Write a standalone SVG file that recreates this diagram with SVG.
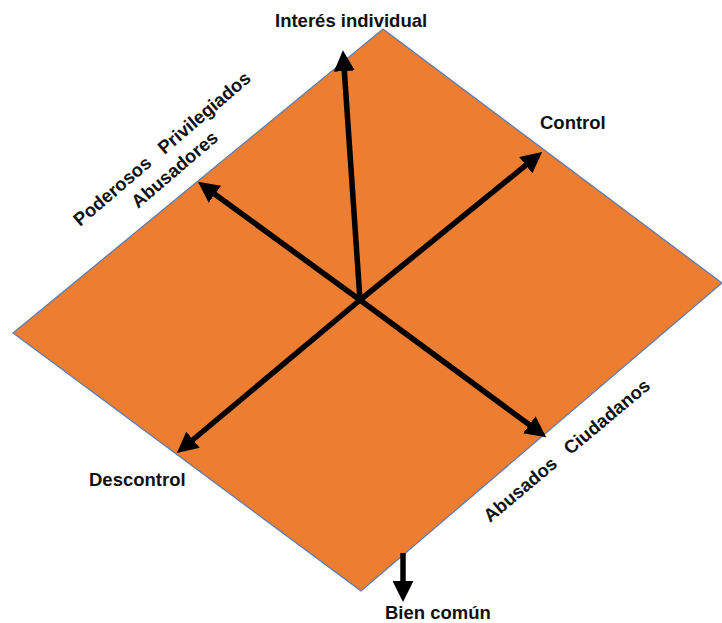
<svg xmlns="http://www.w3.org/2000/svg" width="722" height="623" viewBox="0 0 722 623">
<style>
.lbl{font-family:"Liberation Sans",Arial,sans-serif;font-weight:bold;font-size:18.5px;fill:#111}
.arr{stroke:#000;stroke-width:5.5;fill:none;marker-end:url(#head)}
</style>
<defs>
<marker id="head" viewBox="0 0 20 20" refX="2" refY="10" markerWidth="21" markerHeight="21" markerUnits="userSpaceOnUse" orient="auto">
<path d="M0,0 L20,10 L0,20 Z" fill="#000"/>
</marker>
</defs>
<rect width="722" height="623" fill="#fff"/>
<g id="plane">
<polygon points="383,29 722,283 361,591 13,333" fill="#ED7D31" stroke="#5A7BB5" stroke-width="1.2"/>
</g>
<g id="connectors">
<line class="arr" x1="360" y1="300" x2="344.2" y2="69"/>
<line class="arr" x1="360" y1="300" x2="527.4" y2="163.9"/>
<line class="arr" x1="360" y1="300" x2="213.2" y2="193"/>
<line class="arr" x1="360" y1="300" x2="191.4" y2="441"/>
<line class="arr" x1="360" y1="300" x2="531" y2="426"/>
<line class="arr" x1="403" y1="553" x2="403" y2="583"/>
</g>
<g id="label-interes"><text class="lbl" x="275" y="27">Interés individual</text></g>
<g id="label-control"><text class="lbl" x="540" y="129">Control</text></g>
<g id="label-descontrol"><text class="lbl" x="89" y="486">Descontrol</text></g>
<g id="label-bien"><text class="lbl" x="385" y="619">Bien común</text></g>
<g id="label-poderosos"><text class="lbl" xml:space="preserve" transform="translate(80,227) rotate(-40.5)">Poderosos   Privilegiados</text></g>
<g id="label-abusadores"><text class="lbl" transform="translate(138,209) rotate(-40.5)">Abusadores</text></g>
<g id="label-abusados"><text class="lbl" xml:space="preserve" transform="translate(490,523) rotate(-40)">Abusados   Ciudadanos</text></g>
</svg>
